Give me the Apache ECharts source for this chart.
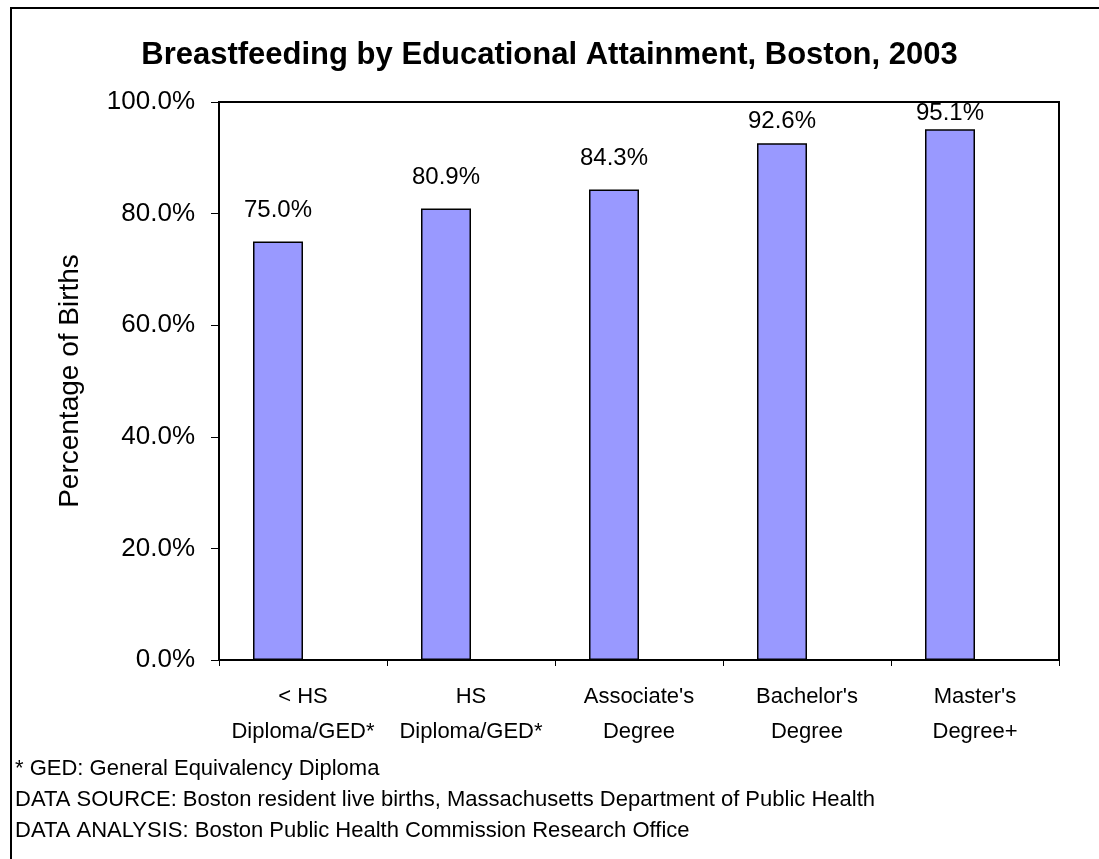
<!DOCTYPE html>
<html>
<head>
<meta charset="utf-8">
<script src="https://cdn.jsdelivr.net/npm/echarts@6/dist/echarts.min.js"></script>
<style>
  html, body { margin: 0; padding: 0; background: #fff; }
  #chart { width: 1099px; height: 859px; }
</style>
</head>
<body>
<div id="chart"></div>
<script>
const categories = ['< HS\nDiploma/GED*', 'HS\nDiploma/GED*', "Associate's\nDegree", "Bachelor's\nDegree", "Master's\nDegree+"]
const breastfeeding = [75.0, 80.9, 84.3, 92.6, 95.1]
const yTicks = [0, 20, 40, 60, 80, 100]
const notes = [
  '* GED: General Equivalency Diploma',
  'DATA SOURCE: Boston resident live births, Massachusetts Department of Public Health',
  'DATA ANALYSIS: Boston Public Health Commission Research Office'
]

const font = '"Liberation Sans", Arial, sans-serif'
const chart = echarts.init(document.getElementById('chart'))

// labels near the top get pushed down so they stay inside the plot
const labelDistance = (v) => v > 95 ? 4 : v > 90 ? 10 : 19

const option = {
  backgroundColor: '#fff',
  animation: false,
  title: {
    text: 'Breastfeeding by Educational Attainment, Boston, 2003',
    left: 'center',
    top: 35,
    textStyle: { fontFamily: font, fontSize: 31, fontWeight: 'bold', color: '#000' }
  },
  grid: {
    left: 219, right: 40, top: 102, bottom: 199,
    show: true, borderColor: '#000', borderWidth: 2, backgroundColor: '#fff'
  },
  xAxis: {
    type: 'category',
    data: categories,
    axisLine: { lineStyle: { color: '#000', width: 2 } },
    axisTick: { show: true, length: 6, lineStyle: { color: '#000', width: 1 } },
    axisLabel: { fontFamily: font, fontSize: 22, color: '#000', lineHeight: 35, margin: 19, interval: 0 }
  },
  yAxis: {
    type: 'value',
    min: yTicks[0],
    max: yTicks[yTicks.length - 1],
    interval: yTicks[1] - yTicks[0],
    name: 'Percentage of Births',
    nameLocation: 'middle',
    nameGap: 135,
    nameTextStyle: { fontFamily: font, fontSize: 28, color: '#000' },
    axisLine: { show: true, lineStyle: { color: '#000', width: 2 } },
    axisTick: { show: true, length: 8, lineStyle: { color: '#000', width: 1 } },
    splitLine: { show: false },
    axisLabel: {
      fontFamily: font, fontSize: 26, color: '#000', margin: 24,
      formatter: (v) => v.toFixed(1) + '%'
    }
  },
  series: [
    {
      type: 'bar',
      data: breastfeeding.map(v => ({
        value: v,
        label: { distance: labelDistance(v) }
      })),
      barWidth: 50,
      barGap: '0%',
      itemStyle: { color: '#9999FF', borderColor: '#000', borderWidth: 1.5 },
      label: {
        show: true,
        position: 'top',
        fontFamily: font, fontSize: 24, color: '#000',
        formatter: (p) => p.value.toFixed(1) + '%'
      }
    },
    {
      // empty second series, keeps the bars left of the category centre like the original
      type: 'bar',
      data: breastfeeding.map(() => '-'),
      barWidth: 50
    }
  ],
  graphic: [
    {
      type: 'rect',
      shape: { x: 11, y: 8, width: 1200, height: 1000 },
      style: { fill: 'none', stroke: '#000', lineWidth: 2 },
      silent: true
    },
    ...notes.map((t, i) => ({
      type: 'text',
      left: 15,
      top: 758 + i * 31,
      style: { text: t, fontFamily: font, fontSize: 22, fill: '#000' }
    }))
  ]
}

chart.setOption(option)
</script>
</body>
</html>
